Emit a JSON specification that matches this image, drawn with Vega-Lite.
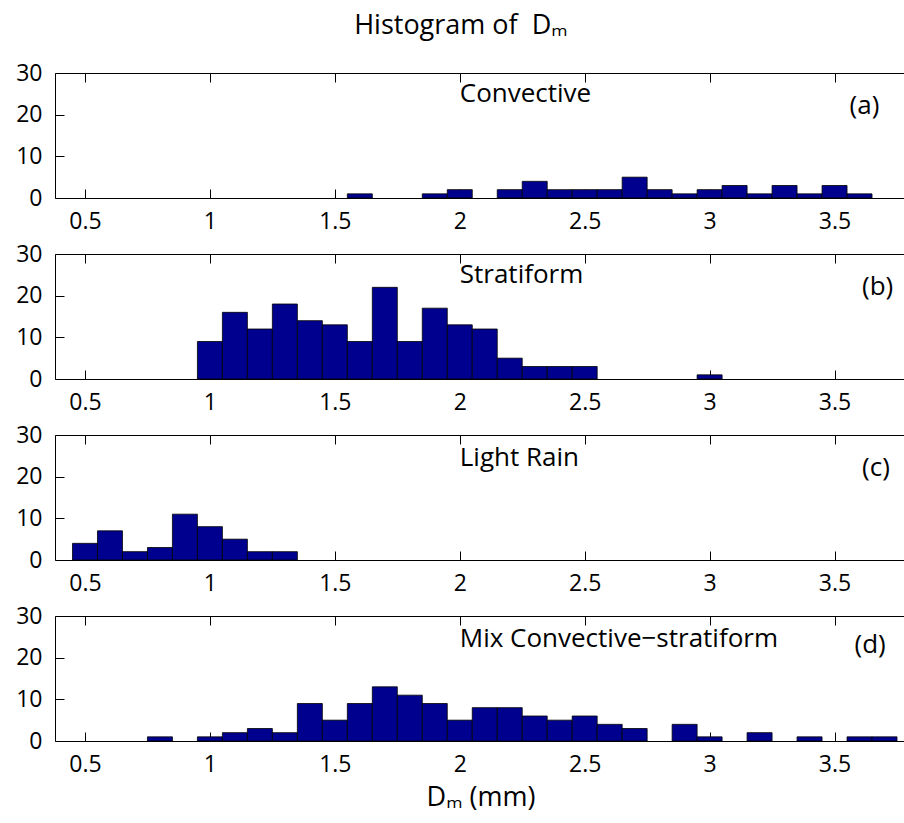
{
  "$schema": "https://vega.github.io/schema/vega-lite/v6.json",
  "background": "white",
  "padding": {"left": 15, "top": 12, "right": 0, "bottom": 6},
  "title": {"text": "Histogram of\u00a0 Dₘ", "font": "Open Sans", "fontSize": 27, "fontWeight": "normal", "color": "black", "anchor": "middle", "offset": 22},
  "bounds": "flush",
  "spacing": 56,
  "config": {
    "view": {"stroke": null},
    "axis": {"grid": false, "domainColor": "black", "tickColor": "black", "labelColor": "black", "titleColor": "black", "domainWidth": 1, "tickWidth": 1, "tickSize": -9, "labelFont": "Open Sans", "labelFontSize": 23, "titleFont": "Open Sans", "titleFontSize": 27, "titleFontWeight": "normal"},
    "text": {"font": "Open Sans", "fontSize": 26, "color": "black"}
  },
  "datasets": {
    "a": [
      {"lo": 1.55, "hi": 1.65, "n": 1}, {"lo": 1.85, "hi": 1.95, "n": 1}, {"lo": 1.95, "hi": 2.05, "n": 2},
      {"lo": 2.15, "hi": 2.25, "n": 2}, {"lo": 2.25, "hi": 2.35, "n": 4}, {"lo": 2.35, "hi": 2.45, "n": 2},
      {"lo": 2.45, "hi": 2.55, "n": 2}, {"lo": 2.55, "hi": 2.65, "n": 2}, {"lo": 2.65, "hi": 2.75, "n": 5},
      {"lo": 2.75, "hi": 2.85, "n": 2}, {"lo": 2.85, "hi": 2.95, "n": 1}, {"lo": 2.95, "hi": 3.05, "n": 2},
      {"lo": 3.05, "hi": 3.15, "n": 3}, {"lo": 3.15, "hi": 3.25, "n": 1}, {"lo": 3.25, "hi": 3.35, "n": 3},
      {"lo": 3.35, "hi": 3.45, "n": 1}, {"lo": 3.45, "hi": 3.55, "n": 3}, {"lo": 3.55, "hi": 3.65, "n": 1}
    ],
    "b": [
      {"lo": 0.95, "hi": 1.05, "n": 9}, {"lo": 1.05, "hi": 1.15, "n": 16}, {"lo": 1.15, "hi": 1.25, "n": 12},
      {"lo": 1.25, "hi": 1.35, "n": 18}, {"lo": 1.35, "hi": 1.45, "n": 14}, {"lo": 1.45, "hi": 1.55, "n": 13},
      {"lo": 1.55, "hi": 1.65, "n": 9}, {"lo": 1.65, "hi": 1.75, "n": 22}, {"lo": 1.75, "hi": 1.85, "n": 9},
      {"lo": 1.85, "hi": 1.95, "n": 17}, {"lo": 1.95, "hi": 2.05, "n": 13}, {"lo": 2.05, "hi": 2.15, "n": 12},
      {"lo": 2.15, "hi": 2.25, "n": 5}, {"lo": 2.25, "hi": 2.35, "n": 3}, {"lo": 2.35, "hi": 2.45, "n": 3},
      {"lo": 2.45, "hi": 2.55, "n": 3}, {"lo": 2.95, "hi": 3.05, "n": 1}
    ],
    "c": [
      {"lo": 0.45, "hi": 0.55, "n": 4}, {"lo": 0.55, "hi": 0.65, "n": 7}, {"lo": 0.65, "hi": 0.75, "n": 2},
      {"lo": 0.75, "hi": 0.85, "n": 3}, {"lo": 0.85, "hi": 0.95, "n": 11}, {"lo": 0.95, "hi": 1.05, "n": 8},
      {"lo": 1.05, "hi": 1.15, "n": 5}, {"lo": 1.15, "hi": 1.25, "n": 2}, {"lo": 1.25, "hi": 1.35, "n": 2}
    ],
    "d": [
      {"lo": 0.75, "hi": 0.85, "n": 1}, {"lo": 0.95, "hi": 1.05, "n": 1}, {"lo": 1.05, "hi": 1.15, "n": 2},
      {"lo": 1.15, "hi": 1.25, "n": 3}, {"lo": 1.25, "hi": 1.35, "n": 2}, {"lo": 1.35, "hi": 1.45, "n": 9},
      {"lo": 1.45, "hi": 1.55, "n": 5}, {"lo": 1.55, "hi": 1.65, "n": 9}, {"lo": 1.65, "hi": 1.75, "n": 13},
      {"lo": 1.75, "hi": 1.85, "n": 11}, {"lo": 1.85, "hi": 1.95, "n": 9}, {"lo": 1.95, "hi": 2.05, "n": 5},
      {"lo": 2.05, "hi": 2.15, "n": 8}, {"lo": 2.15, "hi": 2.25, "n": 8}, {"lo": 2.25, "hi": 2.35, "n": 6},
      {"lo": 2.35, "hi": 2.45, "n": 5}, {"lo": 2.45, "hi": 2.55, "n": 6}, {"lo": 2.55, "hi": 2.65, "n": 4},
      {"lo": 2.65, "hi": 2.75, "n": 3}, {"lo": 2.85, "hi": 2.95, "n": 4}, {"lo": 2.95, "hi": 3.05, "n": 1},
      {"lo": 3.15, "hi": 3.25, "n": 2}, {"lo": 3.35, "hi": 3.45, "n": 1}, {"lo": 3.55, "hi": 3.65, "n": 1},
      {"lo": 3.65, "hi": 3.75, "n": 1}
    ],
    "labels": [
      {"panel": "a", "text": "Convective", "x": 2.0, "y": 25},
      {"panel": "a", "text": "(a)", "x": 3.56, "y": 22},
      {"panel": "b", "text": "Stratiform", "x": 2.0, "y": 25},
      {"panel": "b", "text": "(b)", "x": 3.61, "y": 22},
      {"panel": "c", "text": "Light Rain", "x": 2.0, "y": 24.5},
      {"panel": "c", "text": "(c)", "x": 3.61, "y": 22},
      {"panel": "d", "text": "Mix Convective−stratiform", "x": 2.0, "y": 24.5},
      {"panel": "d", "text": "(d)", "x": 3.58, "y": 23}
    ]
  },
  "vconcat": [
    {
      "width": 851, "height": 125,
      "resolve": {"axis": {"x": "independent", "y": "independent"}},
      "layer": [
        {"data": {"name": "a"}, "mark": {"type": "bar", "orient": "vertical", "fill": "#00008F", "stroke": "black", "strokeWidth": 0.8},
         "encoding": {
           "x": {"field": "lo", "type": "quantitative", "scale": {"domain": [0.4, 3.766], "nice": false, "zero": false}, "axis": {"orient": "bottom", "values": [0.5, 1, 1.5, 2, 2.5, 3, 3.5], "format": "~g", "labelPadding": 21, "title": null}},
           "x2": {"field": "hi"},
           "y": {"field": "n", "type": "quantitative", "scale": {"domain": [0, 30], "nice": false}, "axis": {"values": [0, 10, 20, 30], "labelPadding": 22, "title": null}},
           "y2": {"datum": 0}}},
        {"data": {"name": "labels"}, "transform": [{"filter": "datum.panel === 'a'"}], "mark": {"type": "text", "align": "left", "baseline": "middle"},
         "encoding": {
           "x": {"field": "x", "type": "quantitative", "axis": {"orient": "top", "values": [0.5, 1, 1.5, 2, 2.5, 3, 3.5], "labels": false, "title": null}},
           "y": {"field": "y", "type": "quantitative", "axis": null},
           "text": {"field": "text"}}}
      ]
    },
    {
      "width": 851, "height": 125,
      "resolve": {"axis": {"x": "independent", "y": "independent"}},
      "layer": [
        {"data": {"name": "b"}, "mark": {"type": "bar", "orient": "vertical", "fill": "#00008F", "stroke": "black", "strokeWidth": 0.8},
         "encoding": {
           "x": {"field": "lo", "type": "quantitative", "scale": {"domain": [0.4, 3.766], "nice": false, "zero": false}, "axis": {"orient": "bottom", "values": [0.5, 1, 1.5, 2, 2.5, 3, 3.5], "format": "~g", "labelPadding": 21, "title": null}},
           "x2": {"field": "hi"},
           "y": {"field": "n", "type": "quantitative", "scale": {"domain": [0, 30], "nice": false}, "axis": {"values": [0, 10, 20, 30], "labelPadding": 22, "title": null}},
           "y2": {"datum": 0}}},
        {"data": {"name": "labels"}, "transform": [{"filter": "datum.panel === 'b'"}], "mark": {"type": "text", "align": "left", "baseline": "middle"},
         "encoding": {
           "x": {"field": "x", "type": "quantitative", "axis": {"orient": "top", "values": [0.5, 1, 1.5, 2, 2.5, 3, 3.5], "labels": false, "title": null}},
           "y": {"field": "y", "type": "quantitative", "axis": null},
           "text": {"field": "text"}}}
      ]
    },
    {
      "width": 851, "height": 125,
      "resolve": {"axis": {"x": "independent", "y": "independent"}},
      "layer": [
        {"data": {"name": "c"}, "mark": {"type": "bar", "orient": "vertical", "fill": "#00008F", "stroke": "black", "strokeWidth": 0.8},
         "encoding": {
           "x": {"field": "lo", "type": "quantitative", "scale": {"domain": [0.4, 3.766], "nice": false, "zero": false}, "axis": {"orient": "bottom", "values": [0.5, 1, 1.5, 2, 2.5, 3, 3.5], "format": "~g", "labelPadding": 21, "title": null}},
           "x2": {"field": "hi"},
           "y": {"field": "n", "type": "quantitative", "scale": {"domain": [0, 30], "nice": false}, "axis": {"values": [0, 10, 20, 30], "labelPadding": 22, "title": null}},
           "y2": {"datum": 0}}},
        {"data": {"name": "labels"}, "transform": [{"filter": "datum.panel === 'c'"}], "mark": {"type": "text", "align": "left", "baseline": "middle"},
         "encoding": {
           "x": {"field": "x", "type": "quantitative", "axis": {"orient": "top", "values": [0.5, 1, 1.5, 2, 2.5, 3, 3.5], "labels": false, "title": null}},
           "y": {"field": "y", "type": "quantitative", "axis": null},
           "text": {"field": "text"}}}
      ]
    },
    {
      "width": 851, "height": 125,
      "resolve": {"axis": {"x": "independent", "y": "independent"}},
      "layer": [
        {"data": {"name": "d"}, "mark": {"type": "bar", "orient": "vertical", "fill": "#00008F", "stroke": "black", "strokeWidth": 0.8},
         "encoding": {
           "x": {"field": "lo", "type": "quantitative", "scale": {"domain": [0.4, 3.766], "nice": false, "zero": false}, "axis": {"orient": "bottom", "values": [0.5, 1, 1.5, 2, 2.5, 3, 3.5], "format": "~g", "labelPadding": 21, "title": "Dₘ (mm)", "titlePadding": 8}},
           "x2": {"field": "hi"},
           "y": {"field": "n", "type": "quantitative", "scale": {"domain": [0, 30], "nice": false}, "axis": {"values": [0, 10, 20, 30], "labelPadding": 22, "title": null}},
           "y2": {"datum": 0}}},
        {"data": {"name": "labels"}, "transform": [{"filter": "datum.panel === 'd'"}], "mark": {"type": "text", "align": "left", "baseline": "middle"},
         "encoding": {
           "x": {"field": "x", "type": "quantitative", "axis": {"orient": "top", "values": [0.5, 1, 1.5, 2, 2.5, 3, 3.5], "labels": false, "title": null}},
           "y": {"field": "y", "type": "quantitative", "axis": null},
           "text": {"field": "text"}}}
      ]
    }
  ]
}
